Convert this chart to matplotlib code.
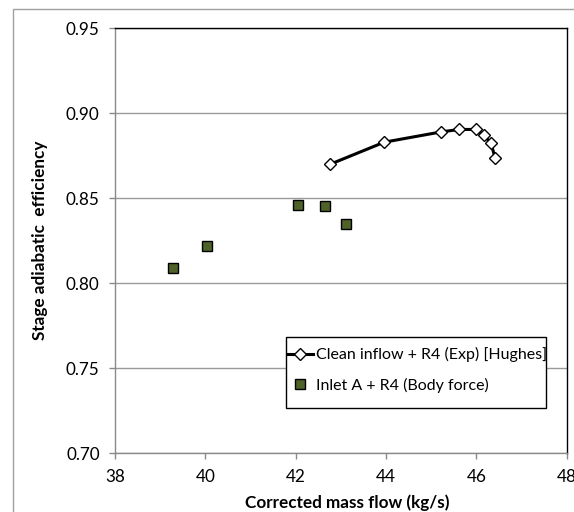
import matplotlib
matplotlib.use('Agg')
import matplotlib.pyplot as plt
from matplotlib.patches import Rectangle

plt.rcParams['font.family'] = ['Lato', 'DejaVu Sans']

# Clean inflow + R4 (Exp) [Hughes]
exp_flow = [42.76, 43.96, 45.21, 45.62, 46.00, 46.17, 46.32, 46.42]
exp_eff = [0.870, 0.883, 0.889, 0.8905, 0.8905, 0.887, 0.8825, 0.8735]

# Inlet A + R4 (Body force)
bf_flow = [39.28, 40.03, 42.05, 42.66, 43.11]
bf_eff = [0.809, 0.822, 0.846, 0.8455, 0.835]

x_ticks = [38, 40, 42, 44, 46, 48]
y_ticks = [0.70, 0.75, 0.80, 0.85, 0.90, 0.95]

fig = plt.figure(figsize=(5.74, 5.12), dpi=100)
# chart area border
fig.patches.append(Rectangle((13 / 574, -0.1), 1.0, 1.1 - 9 / 512, transform=fig.transFigure,
                             fill=False, edgecolor='#a0a0a0', linewidth=1.0))

ax = fig.add_axes([115 / 574, 1 - 453.3 / 512, (566.7 - 115) / 574, (453.3 - 28.3) / 512])

ax.plot(exp_flow, exp_eff, color='black', linewidth=2.2, marker='D', markersize=6,
        markerfacecolor='white', markeredgecolor='black', markeredgewidth=1.0,
        label='Clean inflow + R4 (Exp) [Hughes]', zorder=3)
ax.plot(bf_flow, bf_eff, linestyle='none', marker='s', markersize=7.8,
        markerfacecolor='#4f6228', markeredgecolor='black', markeredgewidth=1.0,
        label='Inlet A + R4 (Body force)', zorder=3)

ax.set_xlim(38, 48)
ax.set_ylim(0.70, 0.95)
ax.set_xticks(x_ticks)
ax.set_yticks(y_ticks)
ax.set_yticklabels(['%.2f' % v for v in y_ticks])
ax.grid(axis='y', color='#9a9a9a', linewidth=1.0)
ax.set_axisbelow(True)

for side in ['top', 'right']:
    ax.spines[side].set_color('black')
    ax.spines[side].set_linewidth(1.0)
for side in ['left', 'bottom']:
    ax.spines[side].set_color('#8a8a8a')
    ax.spines[side].set_linewidth(1.0)

ax.tick_params(axis='both', direction='out', length=4, width=1, color='#8a8a8a',
               labelsize=12.3, pad=7)

ax.set_xlabel('Corrected mass flow (kg/s)', fontsize=12.3, fontweight='bold')
ax.xaxis.set_label_coords(0.514, -0.097)
ax.set_ylabel('Stage adiabatic  efficiency', fontsize=12.3, fontweight='bold', labelpad=13)

# legend box like the Excel one
ax.add_patch(Rectangle((286 / 574, 1 - 408 / 512), 260 / 574, 71 / 512,
                       transform=fig.transFigure, facecolor='white', clip_on=False,
                       edgecolor='black', linewidth=1.0, zorder=5))
leg = ax.legend(loc='center left', bbox_to_anchor=(287 / 574, 1 - 370 / 512),
                bbox_transform=fig.transFigure, frameon=False,
                fontsize=11.5, handlelength=1.65, handletextpad=0.15, borderpad=0,
                labelspacing=0.95, borderaxespad=0)
leg.set_zorder(6)

plt.savefig('out.png', dpi=100)
